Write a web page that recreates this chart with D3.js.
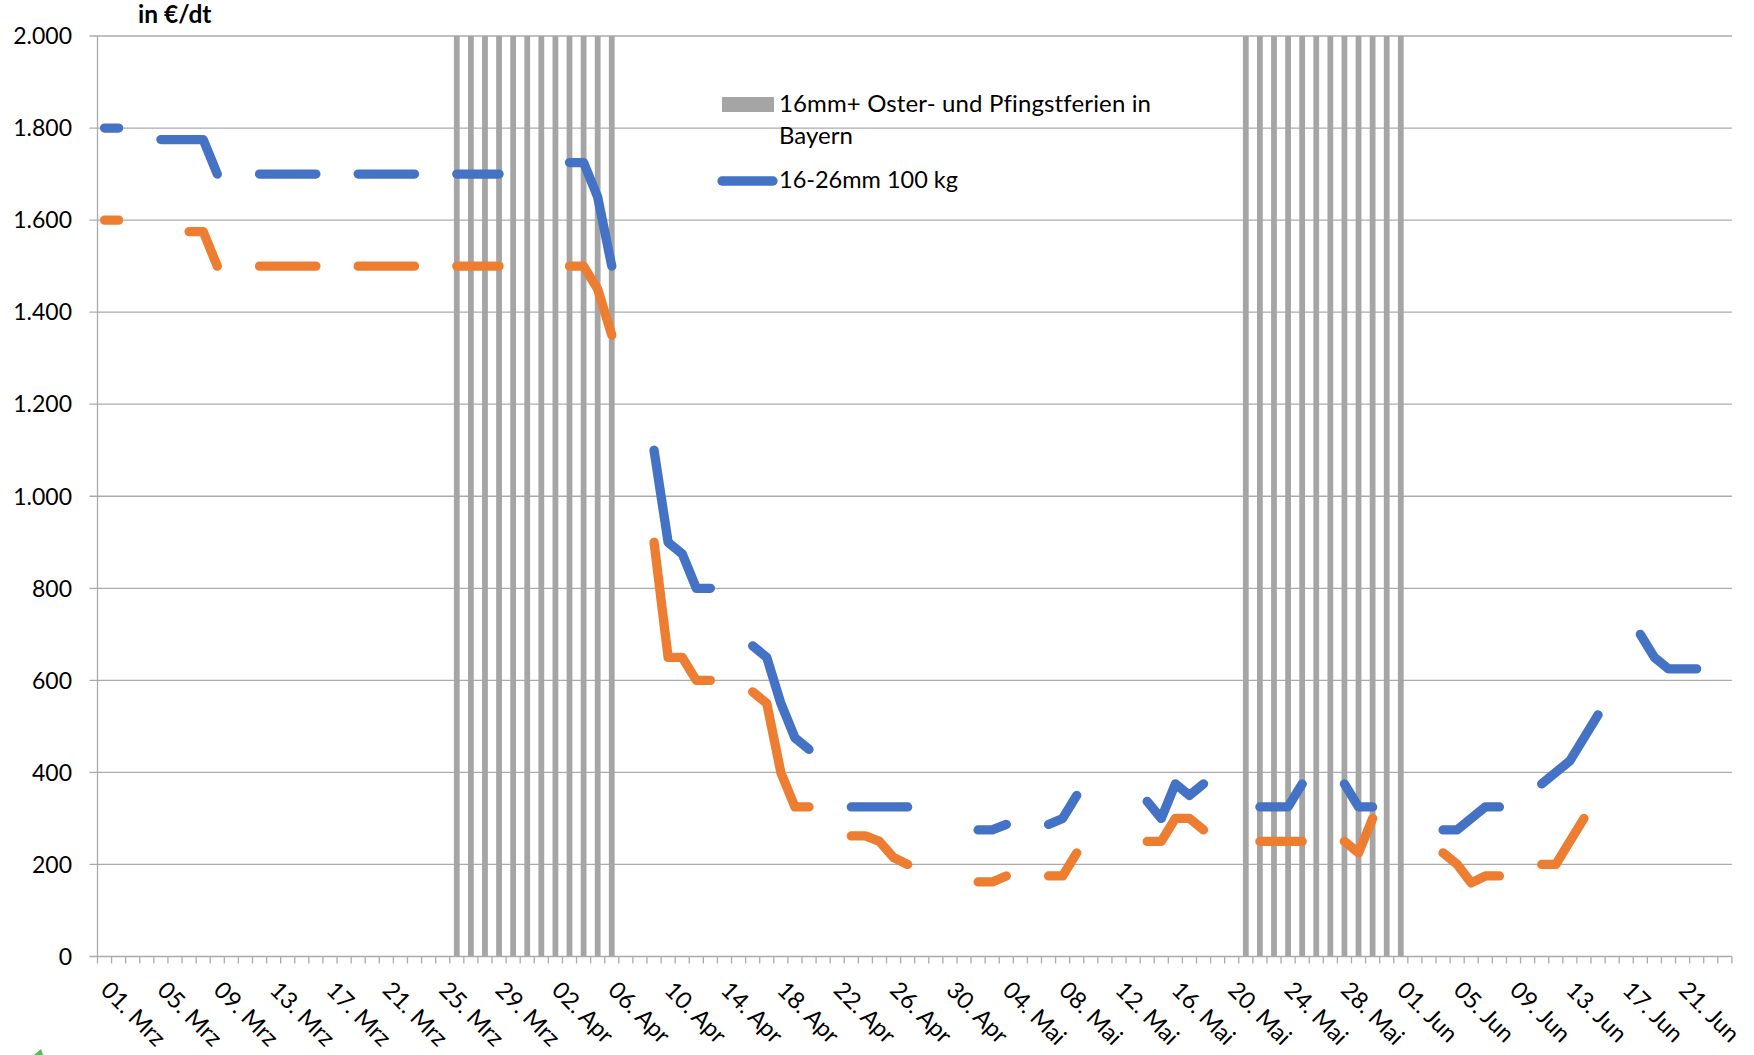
<!DOCTYPE html>
<html>
<head>
<meta charset="utf-8">
<script src="https://cdn.jsdelivr.net/npm/d3@7"></script>
<style>
  html, body { margin: 0; padding: 0; background: #fff; }
  svg { display: block; }
  text { font-family: Lato, "Open Sans", sans-serif; fill: #000; font-variant-ligatures: none; }
</style>
</head>
<body>
<svg id="chart" width="1754" height="1055"></svg>
<script>
// ---- data ----
const categories = [
  "01. Mrz","02. Mrz","03. Mrz","04. Mrz","05. Mrz","06. Mrz","07. Mrz","08. Mrz","09. Mrz","10. Mrz",
  "11. Mrz","12. Mrz","13. Mrz","14. Mrz","15. Mrz","16. Mrz","17. Mrz","18. Mrz","19. Mrz","20. Mrz",
  "21. Mrz","22. Mrz","23. Mrz","24. Mrz","25. Mrz","26. Mrz","27. Mrz","28. Mrz","29. Mrz","30. Mrz","31. Mrz",
  "01. Apr","02. Apr","03. Apr","04. Apr","05. Apr","06. Apr","07. Apr","08. Apr","09. Apr","10. Apr",
  "11. Apr","12. Apr","13. Apr","14. Apr","15. Apr","16. Apr","17. Apr","18. Apr","19. Apr","20. Apr",
  "21. Apr","22. Apr","23. Apr","24. Apr","25. Apr","26. Apr","27. Apr","28. Apr","29. Apr","30. Apr",
  "01. Mai","02. Mai","03. Mai","04. Mai","05. Mai","06. Mai","07. Mai","08. Mai","09. Mai","10. Mai",
  "11. Mai","12. Mai","13. Mai","14. Mai","15. Mai","16. Mai","17. Mai","18. Mai","19. Mai","20. Mai",
  "21. Mai","22. Mai","23. Mai","24. Mai","25. Mai","26. Mai","27. Mai","28. Mai","29. Mai","30. Mai","31. Mai",
  "01. Jun","02. Jun","03. Jun","04. Jun","05. Jun","06. Jun","07. Jun","08. Jun","09. Jun","10. Jun",
  "11. Jun","12. Jun","13. Jun","14. Jun","15. Jun","16. Jun","17. Jun","18. Jun","19. Jun","20. Jun",
  "21. Jun","22. Jun","23. Jun","24. Jun"
];

const tickLabels = ["01. Mrz","05. Mrz","09. Mrz","13. Mrz","17. Mrz","21. Mrz","25. Mrz","29. Mrz",
  "02. Apr","06. Apr","10. Apr","14. Apr","18. Apr","22. Apr","26. Apr","30. Apr",
  "04. Mai","08. Mai","12. Mai","16. Mai","20. Mai","24. Mai","28. Mai",
  "01. Jun","05. Jun","09. Jun","13. Jun","17. Jun","21. Jun"];

const yTicks = [0, 200, 400, 600, 800, 1000, 1200, 1400, 1600, 1800, 2000];

// Oster- und Pfingstferien in Bayern (bar value = top of axis)
const ferienTage = ["26. Mrz","27. Mrz","28. Mrz","29. Mrz","30. Mrz","31. Mrz",
  "01. Apr","02. Apr","03. Apr","04. Apr","05. Apr","06. Apr",
  "21. Mai","22. Mai","23. Mai","24. Mai","25. Mai","26. Mai","27. Mai","28. Mai","29. Mai","30. Mai","31. Mai",
  "01. Jun"];
const ferienWert = 2000;

// 16-26mm 100 kg (blue)
const preis16_26 = [
  1800,1800,null,null,
  1775,1775,1775,1775,1700,null,null,
  1700,1700,1700,1700,1700,null,null,
  1700,1700,1700,1700,1700,null,null,
  1700,1700,1700,1700,null,null,null,
  null,1725,1725,1650,1500,null,null,
  1100,900,875,800,800,null,null,
  675,650,550,475,450,null,null,
  325,325,325,325,325,null,null,
  null,null,275,275,287,null,null,
  287,300,350,null,null,null,null,
  337,300,375,350,375,null,null,
  null,325,325,325,375,null,null,
  375,325,325,null,null,null,null,
  275,275,300,325,325,null,null,
  375,400,425,475,525,null,null,
  700,650,625,625,625,null,null
];

// second price series (orange, not listed in legend)
const preisOrange = [
  1600,1600,null,null,
  null,null,1575,1575,1500,null,null,
  1500,1500,1500,1500,1500,null,null,
  1500,1500,1500,1500,1500,null,null,
  1500,1500,1500,1500,null,null,null,
  null,1500,1500,1450,1350,null,null,
  900,650,650,600,600,null,null,
  575,550,400,325,325,null,null,
  262,262,250,215,200,null,null,
  null,null,162,162,175,null,null,
  175,175,225,null,null,null,null,
  250,250,300,300,275,null,null,
  null,250,250,250,250,null,null,
  250,225,300,null,null,null,null,
  225,200,160,175,175,null,null,
  200,200,250,300,null,null,null,
  null,null,null,null,null,null,null
];

const legendFerien = ["16mm+ Oster- und Pfingstferien in", "Bayern"];
const legendBlue = "16-26mm 100 kg";
const yUnit = "in €/dt";

// ---- chart ----
const svg = d3.select("#chart");
const plotLeft = 97.5, plotRight = 1731.9, plotTop = 36, plotBottom = 956.5;

const x = d3.scaleBand().domain(categories).range([plotLeft, plotRight]).padding(0);
const y = d3.scaleLinear().domain([0, 2000]).range([plotBottom, plotTop]);
const bw = x.bandwidth();
const cx = c => x(c) + bw / 2;

const gridColor = "#ababab";
const fmt = v => d3.format(",")(v).replace(/,/g, ".");

// gridlines + y tick marks
svg.append("g").selectAll("line").data(yTicks.filter(v => v > 0)).join("line")
  .attr("x1", plotLeft - 8).attr("x2", plotRight)
  .attr("y1", d => y(d)).attr("y2", d => y(d))
  .attr("stroke", gridColor).attr("stroke-width", 1.3);

// y labels
svg.append("g").selectAll("text").data(yTicks).join("text")
  .attr("x", 72).attr("y", d => y(d)).attr("dy", "0.36em")
  .attr("text-anchor", "end").attr("font-size", 23).text(fmt);

svg.append("text").attr("x", 138).attr("y", 23)
  .attr("font-size", 24.5).attr("font-weight", "bold").text(yUnit);

// holiday bars
const barW = bw * 0.41;
svg.append("g").selectAll("rect").data(ferienTage).join("rect")
  .attr("x", d => cx(d) - barW / 2).attr("width", barW)
  .attr("y", y(ferienWert)).attr("height", y(0) - y(ferienWert))
  .attr("fill", "#a5a5a5");

// axes lines
svg.append("line").attr("x1", plotLeft).attr("x2", plotLeft).attr("y1", plotTop).attr("y2", plotBottom)
  .attr("stroke", gridColor).attr("stroke-width", 1.3);
svg.append("line").attr("x1", plotLeft - 8).attr("x2", plotRight).attr("y1", plotBottom).attr("y2", plotBottom)
  .attr("stroke", gridColor).attr("stroke-width", 1.3);

// x tick marks at category boundaries
const bounds = categories.map(c => x(c)).concat([plotRight]);
svg.append("g").selectAll("line").data(bounds).join("line")
  .attr("x1", d => d).attr("x2", d => d).attr("y1", plotBottom).attr("y2", plotBottom + 7)
  .attr("stroke", gridColor).attr("stroke-width", 1.3);

// x labels
svg.append("g").selectAll("text").data(tickLabels).join("text")
  .attr("transform", d => `translate(${cx(d) - 5},${plotBottom + 35}) rotate(45)`)
  .attr("font-size", 23.5).text(d => d);

// lines
const line = d3.line()
  .defined(d => d.v != null)
  .x(d => cx(d.c)).y(d => y(d.v));

function drawSeries(values, color) {
  const pts = categories.map((c, i) => ({ c, v: values[i] }));
  svg.append("path").attr("d", line(pts))
    .attr("fill", "none").attr("stroke", color).attr("stroke-width", 9.3)
    .attr("stroke-linecap", "round").attr("stroke-linejoin", "round");
}
drawSeries(preisOrange, "#ed7d31");
drawSeries(preis16_26, "#4472c4");

// legend
const lg = svg.append("g");
lg.append("rect").attr("x", 722).attr("y", 97).attr("width", 52).attr("height", 15).attr("fill", "#a5a5a5");
lg.selectAll("text.f").data(legendFerien).join("text").attr("class", "f")
  .attr("x", 779).attr("y", (d, i) => 112 + i * 32).attr("font-size", 24)
  .attr("textLength", (d, i) => i === 0 ? 372 : null).text(d => d);
lg.append("line").attr("x1", 722).attr("x2", 773).attr("y1", 181).attr("y2", 181)
  .attr("stroke", "#4472c4").attr("stroke-width", 9.3).attr("stroke-linecap", "round");
lg.append("text").attr("x", 779).attr("y", 188).attr("font-size", 23.5).text(legendBlue);

// tiny green artifact at bottom-left corner
svg.append("path").attr("d", "M34,1055 L41,1049 L43,1055 Z").attr("fill", "#5cb85c");
</script>
</body>
</html>
